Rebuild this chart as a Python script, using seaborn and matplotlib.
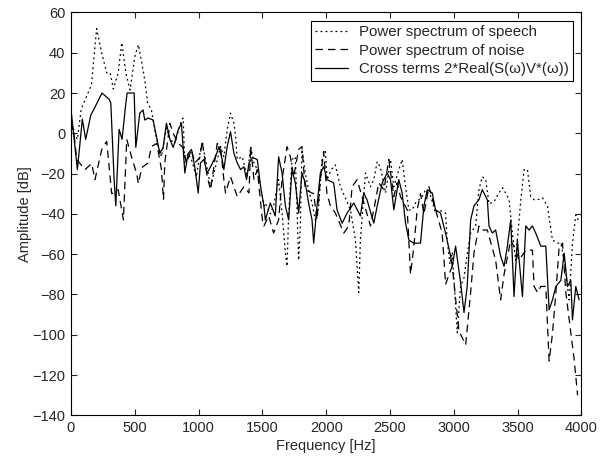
import numpy as np
import pandas as pd
import seaborn as sns
import matplotlib
matplotlib.use("Agg")
import matplotlib.pyplot as plt

# Data (frequency in Hz, amplitude in dB)
speech_freq = [0, 25, 50, 80, 120, 160, 201, 240, 280, 307, 332, 370, 398, 430, 463, 500, 528,
               552, 578, 600, 630, 657, 683, 709, 748, 775, 814, 866, 879, 892, 918, 944, 983,
               1010, 1028, 1054, 1094, 1133, 1172, 1198, 1224, 1250, 1277, 1290, 1303, 1342,
               1381, 1408, 1434, 1460, 1486, 1512, 1523, 1562, 1588, 1627, 1654, 1680, 1693,
               1706, 1732, 1758, 1784, 1797, 1810, 1836, 1862, 1889, 1915, 1941, 1967, 1993,
               2007, 2040, 2072, 2111, 2150, 2190, 2229, 2255, 2268, 2308, 2347, 2373, 2400,
               2425, 2465, 2504, 2530, 2560, 2595, 2622, 2648, 2674, 2700, 2727, 2752, 2779,
               2818, 2857, 2883, 2935, 2948, 2970, 2988, 3027, 3053, 3079, 3105, 3132, 3171,
               3197, 3223, 3250, 3276, 3315, 3350, 3381, 3410, 3433, 3460, 3485, 3525, 3551,
               3577, 3603, 3630, 3656, 3695, 3734, 3773, 3813, 3839, 3865, 3904, 3930, 3956,
               3982]
speech_db = [5, 0, -3, 12, 18, 24, 52, 40, 30, 30, 22, 30, 45, 30, 21.5, 38, 44,
             36, 26.5, 15, 11.6, 1.7, -6, -11.6, 2.6, -3, -5, 6.6, 7.6, -15, -10, -13, -21.6,
             -10, -4, -13, -26.5, -16.6, -6.6, -11.6, 1.7, 10, 5, -1.6, -13, -11.6,
             -21.6, -6.6, -14.7, -18, -26.5, -36, -34.6, -40, -36, -23, -39.6, -59, -66,
             -39.6, -13, -11.6, -63, -47, -8, -19.7, -28, -34.6, -43, -36, -13, -9,
             -23, -18, -15.7, -26.5, -32, -38, -53, -79, -53, -19.7, -26.5, -23, -14,
             -17, -29.6, -13, -26.5, -20, -13, -26.5, -38, -38, -34.6, -33, -31.4, -28,
             -31, -39.6, -38, -39.6, -53, -65, -59, -99, -76, -72, -60, -49.5, -46,
             -28, -21.5, -23, -35, -34, -30, -27, -30, -33, -50, -63, -33, -18,
             -18, -31.4, -33, -33, -32, -36, -53, -54.5, -54.5, -63, -82.7, -54.5, -40.5,
             -44]

noise_freq = [0, 20, 45, 110, 162, 188, 241, 280, 319, 370, 411, 437, 476, 515, 528, 555, 604,
              630, 672, 709, 725, 735, 775, 801, 840, 879, 905, 944, 970, 1010, 1028, 1067,
              1094, 1146, 1172, 1198, 1211, 1250, 1277, 1303, 1355, 1395, 1408, 1434, 1460,
              1500, 1512, 1549, 1588, 1627, 1654, 1693, 1719, 1745, 1784, 1810, 1836, 1902,
              1928, 1954, 1980, 2006, 2033, 2072, 2138, 2177, 2203, 2242, 2281, 2347, 2373,
              2412, 2452, 2491, 2530, 2556, 2582, 2635, 2661, 2687, 2713, 2739, 2766, 2805,
              2857, 2909, 2936, 2962, 2988, 3040, 3093, 3132, 3158, 3197, 3223, 3263, 3328,
              3367, 3394, 3446, 3485, 3511, 3564, 3616, 3629, 3656, 3682, 3721, 3747, 3773,
              3800, 3826, 3852, 3878, 3917, 3943, 3970]
noise_db = [5, 2, -13, -18, -15, -23, -8, -4, -30, -28, -43, -3, -12, -20, -25, -17, -14.7,
            -6.6, -5, -18, -33, -14.7, 5, 0, -5, -7, -14.7, -8, -14.7, -12, -4, -21.5,
            -28, -5, -7, -23, -29.6, -21.5, -26.5, -31.4, -26.5, -29.6, -6.6, -23, -18,
            -43, -46, -41, -49.5, -43, -23, -6.6, -11.6, -21.5, -8, -6.6, -28, -30,
            -43, -23, -9, -30, -36, -39.6, -49.5, -46, -26.5, -23, -31.4, -46, -38,
            -24.6, -28, -13, -31.4, -24.6, -31.4, -38, -70, -56, -38, -30, -40, -26.5,
            -38, -49.5, -75, -70, -66, -98, -105, -79, -59.5, -46, -48, -48, -63,
            -82.7, -70, -53, -58, -63, -58, -58, -76, -79, -76, -76, -113, -99.6,
            -79, -56, -54.5, -79, -99, -112, -130]

cross_freq = [0, 50, 89, 115, 155, 180, 243, 298, 312, 338, 351, 377, 400, 430, 440, 495, 508,
              539, 565, 578, 604, 644, 670, 696, 722, 748, 775, 801, 840, 866, 892, 918, 944,
              970, 997, 1015, 1041, 1067, 1094, 1133, 1159, 1185, 1198, 1224, 1250, 1277,
              1303, 1329, 1355, 1376, 1395, 1421, 1460, 1486, 1512, 1523, 1562, 1601, 1627,
              1654, 1680, 1706, 1732, 1758, 1784, 1810, 1836, 1862, 1889, 1902, 1928, 1954,
              1980, 2007, 2059, 2085, 2125, 2164, 2216, 2268, 2294, 2320, 2373, 2400, 2439,
              2478, 2504, 2530, 2569, 2595, 2622, 2648, 2687, 2739, 2766, 2792, 2831, 2857,
              2896, 2935, 2975, 2988, 3014, 3053, 3080, 3105, 3132, 3158, 3197, 3223, 3263,
              3276, 3302, 3328, 3367, 3394, 3420, 3446, 3472, 3498, 3538, 3564, 3590, 3616,
              3642, 3682, 3721, 3747, 3773, 3800, 3839, 3865, 3891, 3917, 3930, 3956, 3982]
cross_db = [12, -18, 7, -3, 9, 12, 20, 17, 15, -23, -36, 2, -3, 15, 20, 20, -7,
            10, 11.6, 6.6, 7.6, 6.6, -1.6, -10, -7, 5, -3, -7, 1.7, 5, -19.7, -10, -8,
            -16.6, -29.6, -14.7, -13, -19.7, -16.6, -11.6, -6.6, -13, -18, -6.6, 0.8, -10,
            -14.7, -18, -16.6, -23, -14.7, -12, -13, -26.5, -36, -43, -34.6, -41, -11.6,
            -19.7, -36, -43, -18, -24.6, -39.6, -19.7, -24.6, -34.6, -43, -54.5, -36, -19.7,
            -16.6, -23, -24.6, -38, -44.6, -39.6, -34.6, -41, -29.6, -33, -44.6, -36, -24.6,
            -19.7, -23, -38, -23, -29.6, -44.6, -53, -54.5, -54.5, -36, -28, -29.6, -38,
            -39.6, -49.5, -61, -66, -56, -74, -89, -76, -43, -36, -33, -28, -33,
            -46, -49.5, -48, -61, -66, -56, -43, -81, -53, -81, -46, -48, -46,
            -49.5, -56, -56, -87.6, -82.7, -76, -73, -59.5, -76, -73, -92.6, -76, -82.7]

labels = ["Power spectrum of speech",
          "Power spectrum of noise",
          "Cross terms 2*Real(S(\u03c9)V*(\u03c9))"]

sns.set_style("ticks")
plt.rcParams['font.family'] = ['Liberation Sans', 'DejaVu Sans']

fig = plt.figure(figsize=(6.12, 4.61), dpi=100)
ax = fig.add_axes([0.116, 0.099, 0.834, 0.874])

sns.lineplot(x=speech_freq, y=speech_db, ax=ax, color='k', lw=0.9,
             linestyle=(0, (1.5, 2.5)), label=labels[0], estimator=None)
sns.lineplot(x=noise_freq, y=noise_db, ax=ax, color='k', lw=0.9,
             linestyle=(0, (6, 4)), label=labels[1], estimator=None)
sns.lineplot(x=cross_freq, y=cross_db, ax=ax, color='k', lw=0.9,
             linestyle='-', label=labels[2], estimator=None)

ax.set_xlim(0, 4000)
ax.set_ylim(-140, 60)
ax.set_xticks(np.arange(0, 4001, 500))
ax.set_yticks(np.arange(-140, 61, 20))
ax.set_xlabel("Frequency [Hz]", fontsize=10.5, labelpad=3)
ax.set_ylabel("Amplitude [dB]", fontsize=10.5, labelpad=0)
ax.tick_params(direction='in', top=True, right=True, labelsize=10.5, length=4,
               width=0.8, pad=4)
for s in ax.spines.values():
    s.set_visible(True)
    s.set_linewidth(0.8)
    s.set_color('k')

leg = ax.legend(loc='upper right', prop={'size': 10.8}, frameon=True, fancybox=False,
                handlelength=2.2, borderpad=0.3, labelspacing=0.3,
                borderaxespad=0.55, handletextpad=0.7)
leg.get_frame().set_edgecolor('k')
leg.get_frame().set_linewidth(0.8)
leg.get_frame().set_alpha(1)

fig.savefig("out.png", dpi=100)
